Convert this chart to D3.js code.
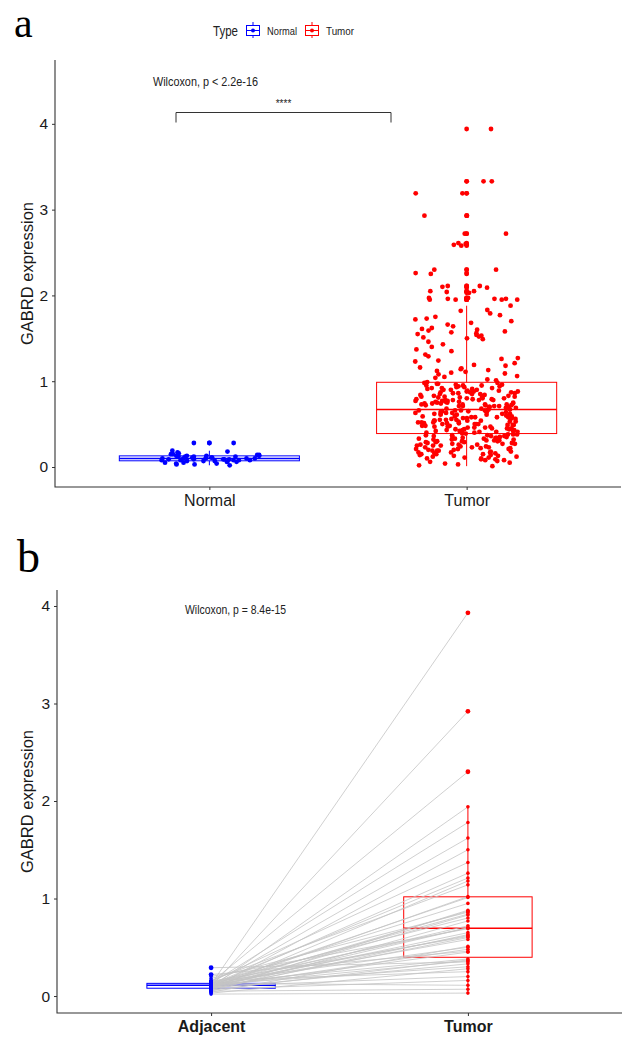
<!DOCTYPE html>
<html>
<head>
<meta charset="utf-8">
<script src="https://cdn.jsdelivr.net/npm/d3@7"></script>
<style>
  body { margin: 0; background: #fff; }
  svg { display: block; font-family: "Liberation Sans", Arial, sans-serif; }
</style>
</head>
<body>
<div id="chart"></div>
<script>
// ---- data ----
var groups_a = ["Normal", "Tumor"];
var groups_b = ["Adjacent", "Tumor"];
var type_keys = ["Normal", "Tumor"];
var y_ticks = [0, 1, 2, 3, 4];

// panel a: unpaired samples
var normal_a = [0.28, 0.28, 0.19, 0.18, 0.17, 0.16, 0.15, 0.15, 0.14, 0.14, 0.13, 0.13, 0.13, 0.12, 0.12,
  0.12, 0.11, 0.11, 0.11, 0.10, 0.10, 0.10, 0.10, 0.09, 0.09, 0.09, 0.09, 0.08, 0.08, 0.08, 0.08, 0.07,
  0.07, 0.07, 0.06, 0.06, 0.06, 0.05, 0.05, 0.04, 0.04, 0.03, 0.03, 0.02, 0.12, 0.10, 0.09, 0.11, 0.08, 0.13];

var tumor_a = [
  3.94, 3.33, 3.33, 3.19, 3.19, 2.93, 2.93, 2.72, 2.72, 2.61, 2.59, 2.60, 2.58, 2.30, 2.30, 2.26, 2.25,
  2.11, 2.11, 2.09, 2.10, 2.05, 2.04, 2.05, 2.03, 1.95, 1.95, 1.96, 1.95, 1.97, 1.96, 1.97, 1.95, 1.96,
  1.88,
  1.83, 1.82, 1.77, 1.75, 1.72, 1.70, 1.68, 1.66, 1.62, 1.60, 1.58, 1.57, 1.56, 1.55, 1.54, 1.53, 1.52,
  1.51, 1.50, 1.49, 1.64, 1.79, 1.73, 1.59, 1.61,
  1.46, 1.43, 1.40, 1.37, 1.35, 1.31, 1.29, 1.26, 1.24, 1.21, 1.19, 1.18, 1.16, 1.15, 1.14, 1.13, 1.12,
  1.11, 1.10, 1.08, 1.06, 1.04, 1.02, 1.01, 1.23, 1.27, 1.09, 1.05,
  0.99, 0.98, 0.98, 0.97, 0.96, 0.96, 0.95, 0.95, 0.94, 0.93, 0.93, 0.92, 0.92, 0.91, 0.90, 0.90, 0.89,
  0.89, 0.88, 0.88, 0.87, 0.87, 0.86, 0.86, 0.85, 0.85, 0.84, 0.84, 0.83, 0.83, 0.82, 0.82, 0.81, 0.81,
  0.80, 0.80, 0.80, 0.79, 0.79, 0.78, 0.78, 0.78, 0.77, 0.77, 0.76, 0.76, 0.76, 0.75, 0.75, 0.74, 0.74,
  0.74, 0.73, 0.73, 0.73, 0.72, 0.72, 0.72, 0.71, 0.71, 0.71, 0.70, 0.70, 0.70, 0.69, 0.69, 0.97, 0.94,
  0.91, 0.88, 0.85, 0.83, 0.79, 0.77, 0.75, 0.73, 0.71, 0.90, 0.86, 0.82, 0.78, 0.74, 0.95, 0.92, 0.87, 0.81,
  0.68, 0.68, 0.67, 0.67, 0.66, 0.66, 0.66, 0.65, 0.65, 0.64, 0.64, 0.64, 0.63, 0.63, 0.62, 0.62, 0.62,
  0.61, 0.61, 0.60, 0.60, 0.60, 0.59, 0.59, 0.58, 0.58, 0.58, 0.57, 0.57, 0.56, 0.56, 0.56, 0.55, 0.55,
  0.54, 0.54, 0.54, 0.53, 0.53, 0.52, 0.52, 0.52, 0.51, 0.51, 0.50, 0.50, 0.50, 0.49, 0.49, 0.48, 0.48,
  0.48, 0.47, 0.47, 0.46, 0.46, 0.46, 0.45, 0.45, 0.44, 0.44, 0.44, 0.43, 0.43, 0.42, 0.42, 0.42, 0.41,
  0.41, 0.40, 0.40, 0.67, 0.65, 0.63, 0.61, 0.59, 0.57, 0.55, 0.53, 0.51, 0.49, 0.47, 0.45, 0.43, 0.41,
  0.66, 0.62, 0.58, 0.54, 0.50,
  0.39, 0.39, 0.38, 0.38, 0.38, 0.37, 0.37, 0.36, 0.36, 0.36, 0.35, 0.35, 0.34, 0.34, 0.34, 0.33, 0.33,
  0.32, 0.32, 0.32, 0.31, 0.31, 0.30, 0.30, 0.30, 0.29, 0.29, 0.28, 0.28, 0.28, 0.27, 0.27, 0.26, 0.26,
  0.26, 0.25, 0.25, 0.24, 0.24, 0.23, 0.23, 0.22, 0.22, 0.21, 0.21, 0.20, 0.20, 0.19, 0.19, 0.18, 0.18,
  0.17, 0.17, 0.16, 0.16, 0.15, 0.15, 0.14, 0.14, 0.13, 0.13, 0.12, 0.12, 0.11, 0.10, 0.10, 0.09, 0.08,
  0.08, 0.07, 0.06, 0.05, 0.04, 0.03, 0.02, 0.01, 0.37, 0.35, 0.33, 0.31, 0.29, 0.27, 0.25, 0.23, 0.21,
  0.19, 0.17, 0.15, 0.11, 0.09];

// panel b: paired samples (same order in both arrays)
var tumor_b = [3.93, 2.92, 2.30, 1.94, 1.78, 1.62, 1.50, 1.37, 1.26, 1.21, 1.18, 1.14, 1.02, 1.01, 0.95,
  0.88, 0.87, 0.86, 0.84, 0.83, 0.80, 0.77, 0.72, 0.70, 0.70, 0.69, 0.65, 0.63, 0.62, 0.61, 0.60, 0.58,
  0.51, 0.50, 0.48, 0.46, 0.45, 0.38, 0.37, 0.36, 0.35, 0.33, 0.30, 0.28, 0.25, 0.20, 0.16, 0.11, 0.07, 0.03];
var adjacent_b = [0.12, 0.10, 0.14, 0.09, 0.13, 0.11, 0.08, 0.15, 0.10, 0.12, 0.07, 0.16, 0.09, 0.11, 0.13,
  0.06, 0.10, 0.18, 0.12, 0.08, 0.14, 0.05, 0.11, 0.09, 0.13, 0.20, 0.10, 0.07, 0.12, 0.15, 0.08, 0.11,
  0.04, 0.14, 0.09, 0.22, 0.10, 0.13, 0.06, 0.11, 0.29, 0.08, 0.12, 0.03, 0.16, 0.10, 0.07, 0.13, 0.05, 0.02];

var colors = {Normal: "#0000FF", Adjacent: "#0000FF", Tumor: "#FF0000"};

// ---- helpers ----
function box_stats(values) {
  var v = values.slice().sort(d3.ascending);
  var q1 = d3.quantile(v, 0.25), med = d3.quantile(v, 0.5), q3 = d3.quantile(v, 0.75);
  var iqr = q3 - q1;
  var lo = d3.min(v.filter(function(d) { return d >= q1 - 1.5 * iqr; }));
  var hi = d3.max(v.filter(function(d) { return d <= q3 + 1.5 * iqr; }));
  var out = v.filter(function(d) { return d < lo || d > hi; });
  return {q1: q1, med: med, q3: q3, lo: lo, hi: hi, out: out};
}

function draw_box(g, s, cx, half, y, color) {
  var box = g.append("g").attr("fill", "none").attr("stroke", color).attr("stroke-width", 1);
  box.append("line").attr("x1", cx).attr("x2", cx).attr("y1", y(s.q3)).attr("y2", y(s.hi));
  box.append("line").attr("x1", cx).attr("x2", cx).attr("y1", y(s.q1)).attr("y2", y(s.lo));
  box.append("rect")
    .attr("x", cx - half).attr("width", half * 2)
    .attr("y", y(s.q3)).attr("height", y(s.q1) - y(s.q3));
  box.append("line").attr("x1", cx - half).attr("x2", cx + half)
    .attr("y1", y(s.med)).attr("y2", y(s.med)).attr("stroke-width", 1.4);
}

function draw_axes(svg, x, y, left, right, top, bottom, bold_x) {
  var ga = svg.append("g").attr("transform", "translate(" + left + ",0)")
    .call(d3.axisLeft(y).tickValues(y_ticks).tickSize(3).tickPadding(4).tickFormat(d3.format("d")));
  ga.select(".domain").remove();
  ga.selectAll("line").attr("stroke", "#333");
  ga.selectAll("text").style("font-size", "15.5px").attr("fill", "#1a1a1a");

  var gb = svg.append("g").attr("transform", "translate(0," + bottom + ")")
    .call(d3.axisBottom(x).tickSize(3).tickPadding(5));
  gb.select(".domain").remove();
  gb.selectAll("line").attr("stroke", "#333");
  gb.selectAll("text").style("font-size", "16px").attr("fill", "#1a1a1a")
    .style("font-weight", bold_x ? "bold" : "normal");

  svg.append("path")
    .attr("d", "M" + left + "," + top + "V" + bottom + "H" + right)
    .attr("fill", "none").attr("stroke", "#333").attr("stroke-width", 1.1);

  svg.append("text")
    .attr("transform", "translate(33," + ((top + bottom) / 2) + ") rotate(-90)")
    .attr("text-anchor", "middle")
    .style("font-size", "16.5px").attr("fill", "#1a1a1a")
    .text("GABRD expression");
}

var svg = d3.select("#chart").append("svg").attr("width", 626).attr("height", 1038);

// ---------------- panel a ----------------
var a = {left: 55, right: 621, top: 60, bottom: 487};
var xa = d3.scalePoint().domain(groups_a).range([a.left, a.right]).padding(0.6);
var ya = d3.scaleLinear().domain([-0.233, 4.744]).range([a.bottom, a.top]);
var step_a = xa.step();

svg.append("text").attr("x", 14).attr("y", 37)
  .style("font-family", "'Liberation Serif', 'Times New Roman', serif")
  .style("font-size", "42px").attr("fill", "#000").text("a");

// legend
var leg = svg.append("g");
leg.append("text").attr("x", 213).attr("y", 36).style("font-size", "14px")
  .attr("textLength", 25).attr("lengthAdjust", "spacingAndGlyphs").attr("fill", "#222").text("Type");
var key_x = [246, 305], key_tx = [267, 326], key_w = [30, 28];
type_keys.forEach(function(k, i) {
  var kx = key_x[i], c = colors[k], g = leg.append("g").attr("stroke", c).attr("fill", "none");
  g.append("line").attr("x1", kx + 7).attr("x2", kx + 7).attr("y1", 22).attr("y2", 38);
  g.append("rect").attr("x", kx + 0.5).attr("y", 25.5).attr("width", 13).attr("height", 10).attr("fill", "#fff");
  g.append("line").attr("x1", kx + 0.5).attr("x2", kx + 13.5).attr("y1", 30.5).attr("y2", 30.5);
  g.append("circle").attr("cx", kx + 7).attr("cy", 30.5).attr("r", 2).attr("fill", c).attr("stroke", "none");
  leg.append("text").attr("x", key_tx[i]).attr("y", 35).style("font-size", "11px")
    .attr("textLength", key_w[i]).attr("lengthAdjust", "spacingAndGlyphs").attr("fill", "#222").text(k);
});

var sets_a = {Normal: normal_a, Tumor: tumor_a};
var jitter = d3.randomUniform.source(d3.randomLcg(0.42))(-0.2, 0.2);

groups_a.forEach(function(gname) {
  var vals = sets_a[gname], cx = xa(gname), c = colors[gname];
  var s = box_stats(vals);
  svg.append("g").selectAll("circle").data(vals).join("circle")
    .attr("cx", function() { return cx + jitter() * step_a; })
    .attr("cy", function(d) { return ya(d); })
    .attr("r", 2.4).attr("fill", c);
  draw_box(svg, s, cx, 0.35 * step_a, ya, c);
  svg.append("g").selectAll("circle").data(s.out).join("circle")
    .attr("cx", cx).attr("cy", function(d) { return ya(d); })
    .attr("r", 2.4).attr("fill", c);
});

draw_axes(svg, xa, ya, a.left, a.right, a.top, a.bottom, false);

// test annotation
svg.append("text").attr("x", 153).attr("y", 86).style("font-size", "13px")
  .attr("textLength", 105).attr("lengthAdjust", "spacingAndGlyphs").attr("fill", "#222")
  .text("Wilcoxon, p < 2.2e-16");
svg.append("path").attr("d", "M176,122.5V112.5H391V122.5")
  .attr("fill", "none").attr("stroke", "#333").attr("stroke-width", 1);
svg.append("text").attr("x", 283.5).attr("y", 107).attr("text-anchor", "middle")
  .style("font-size", "10px").attr("fill", "#222").text("****");

// ---------------- panel b ----------------
var b = {left: 57, right: 622, top: 590, bottom: 1013};
var xb = d3.scalePoint().domain(groups_b).range([b.left, b.right]).padding(0.6);
var yb = d3.scaleLinear().domain([-0.174, 4.164]).range([b.bottom, b.top]);
var step_b = xb.step();

svg.append("text").attr("x", 17).attr("y", 572)
  .style("font-family", "'Liberation Serif', 'Times New Roman', serif")
  .style("font-size", "46px").attr("fill", "#000").text("b");

var sets_b = {Adjacent: adjacent_b, Tumor: tumor_b};
groups_b.forEach(function(gname) {
  draw_box(svg, box_stats(sets_b[gname]), xb(gname), 0.25 * step_b, yb, colors[gname]);
});

// paired lines
svg.append("g").selectAll("line").data(adjacent_b).join("line")
  .attr("x1", xb("Adjacent")).attr("y1", function(d) { return yb(d); })
  .attr("x2", xb("Tumor")).attr("y2", function(d, i) { return yb(tumor_b[i]); })
  .attr("stroke", "#c4c4c4").attr("stroke-width", 0.8);

groups_b.forEach(function(gname) {
  var vals = sets_b[gname], cx = xb(gname), c = colors[gname];
  svg.append("g").selectAll("circle").data(vals).join("circle")
    .attr("cx", cx).attr("cy", function(d) { return yb(d); })
    .attr("r", 1.8).attr("fill", c);
  svg.append("g").selectAll("circle").data(box_stats(vals).out).join("circle")
    .attr("cx", cx).attr("cy", function(d) { return yb(d); })
    .attr("r", 2.4).attr("fill", c);
});

draw_axes(svg, xb, yb, b.left, b.right, b.top, b.bottom, true);

svg.append("text").attr("x", 185).attr("y", 614).style("font-size", "13px")
  .attr("textLength", 101).attr("lengthAdjust", "spacingAndGlyphs").attr("fill", "#222")
  .text("Wilcoxon, p = 8.4e-15");
</script>
</body>
</html>
